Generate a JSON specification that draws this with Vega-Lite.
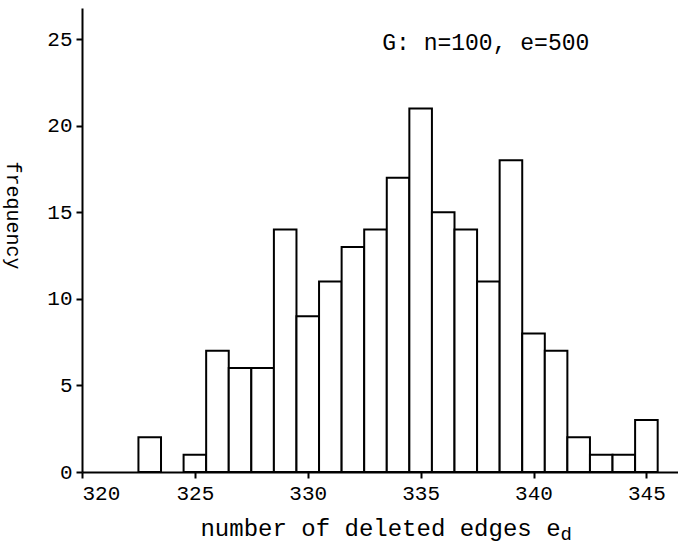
{
  "$schema": "https://vega.github.io/schema/vega-lite/v6.json",
  "width": 596,
  "height": 464,
  "autosize": {"type": "none"},
  "padding": {"left": 82, "top": 8, "right": 0, "bottom": 78},
  "background": "white",
  "config": {
    "view": {"stroke": null},
    "axis": {
      "grid": false,
      "domainColor": "black",
      "domainWidth": 2,
      "tickColor": "black",
      "tickWidth": 2,
      "tickSize": 6,
      "labelColor": "black",
      "titleColor": "black",
      "labelFont": "Liberation Mono",
      "titleFont": "Liberation Mono",
      "titleFontWeight": "normal",
      "labelFontSize": 21,
      "labelPadding": 4
    }
  },
  "layer": [
    {
      "data": {
        "values": [
          {"deleted": 323, "bin_start": 322.5, "bin_end": 323.5, "frequency": 2},
          {"deleted": 325, "bin_start": 324.5, "bin_end": 325.5, "frequency": 1},
          {"deleted": 326, "bin_start": 325.5, "bin_end": 326.5, "frequency": 7},
          {"deleted": 327, "bin_start": 326.5, "bin_end": 327.5, "frequency": 6},
          {"deleted": 328, "bin_start": 327.5, "bin_end": 328.5, "frequency": 6},
          {"deleted": 329, "bin_start": 328.5, "bin_end": 329.5, "frequency": 14},
          {"deleted": 330, "bin_start": 329.5, "bin_end": 330.5, "frequency": 9},
          {"deleted": 331, "bin_start": 330.5, "bin_end": 331.5, "frequency": 11},
          {"deleted": 332, "bin_start": 331.5, "bin_end": 332.5, "frequency": 13},
          {"deleted": 333, "bin_start": 332.5, "bin_end": 333.5, "frequency": 14},
          {"deleted": 334, "bin_start": 333.5, "bin_end": 334.5, "frequency": 17},
          {"deleted": 335, "bin_start": 334.5, "bin_end": 335.5, "frequency": 21},
          {"deleted": 336, "bin_start": 335.5, "bin_end": 336.5, "frequency": 15},
          {"deleted": 337, "bin_start": 336.5, "bin_end": 337.5, "frequency": 14},
          {"deleted": 338, "bin_start": 337.5, "bin_end": 338.5, "frequency": 11},
          {"deleted": 339, "bin_start": 338.5, "bin_end": 339.5, "frequency": 18},
          {"deleted": 340, "bin_start": 339.5, "bin_end": 340.5, "frequency": 8},
          {"deleted": 341, "bin_start": 340.5, "bin_end": 341.5, "frequency": 7},
          {"deleted": 342, "bin_start": 341.5, "bin_end": 342.5, "frequency": 2},
          {"deleted": 343, "bin_start": 342.5, "bin_end": 343.5, "frequency": 1},
          {"deleted": 344, "bin_start": 343.5, "bin_end": 344.5, "frequency": 1},
          {"deleted": 345, "bin_start": 344.5, "bin_end": 345.5, "frequency": 3}
        ]
      },
      "mark": {"type": "bar", "fill": "white", "stroke": "black", "strokeWidth": 2},
      "encoding": {
        "x": {
          "field": "bin_start",
          "type": "quantitative",
          "scale": {"domain": [320, 346.4], "nice": false, "zero": false},
          "axis": {
            "values": [320, 325, 330, 335, 340, 345],
            "title": "number of deleted edges e",
            "titleFontSize": 24,
            "titleBaseline": "middle",
            "titleY": 56
          }
        },
        "x2": {"field": "bin_end"},
        "y": {
          "field": "frequency",
          "type": "quantitative",
          "scale": {"domain": [0, 26.8], "nice": false},
          "axis": {
            "values": [0, 5, 10, 15, 20, 25],
            "title": "frequency",
            "titleFontSize": 20,
            "titleAngle": 90,
            "titleAlign": "center",
            "titleBaseline": "middle",
            "titleX": -70,
            "titleY": 207
          }
        },
        "y2": {"datum": 0}
      }
    },
    {
      "data": {"values": [{}]},
      "mark": {"type": "text", "font": "Liberation Mono", "fontSize": 23, "align": "left", "baseline": "middle", "color": "black"},
      "encoding": {
        "x": {"datum": 333.3},
        "y": {"datum": 24.8},
        "text": {"value": "G: n=100, e=500"}
      }
    },
    {
      "data": {"values": [{}]},
      "mark": {"type": "text", "font": "Liberation Mono", "fontSize": 19, "align": "left", "baseline": "middle", "color": "black"},
      "encoding": {
        "x": {"datum": 341.2},
        "y": {"datum": -3.6},
        "text": {"value": "d"}
      }
    }
  ]
}
